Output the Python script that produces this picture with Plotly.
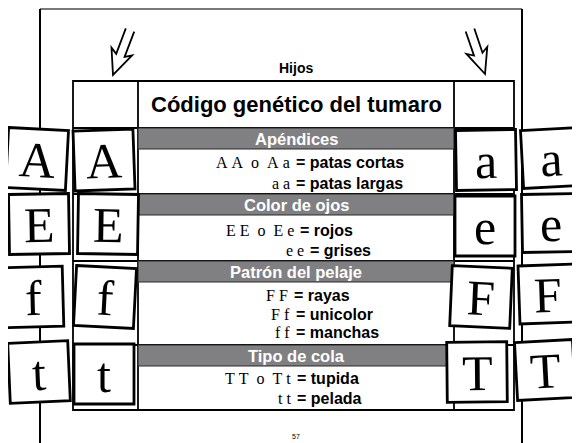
import math
import plotly.graph_objects as go

# ---------------- data ----------------
heading = "Hijos"
title = "Código genético del tumaro"
traits = ["Apéndices", "Color de ojos", "Patrón del pelaje", "Tipo de cola"]
left_outer = ["A", "E", "f", "t"]
left_inner = ["A", "E", "f", "t"]
right_inner = ["a", "e", "F", "T"]
right_outer = ["a", "e", "F", "T"]
genotypes = [["A A  o  A a", "a a"],
             ["E E  o  E e", "e e"],
             ["F F", "F f", "f f"],
             ["T T  o  T t", "t t"]]
phenotypes = [["patas cortas", "patas largas"],
              ["rojos", "grises"],
              ["rayas", "unicolor", "manchas"],
              ["tupida", "pelada"]]
page_number = "57"

# ---------------- layout constants (pixels) ----------------
W, H = 580, 443
OFF = 8  # page body margin of the browser
SANS = "Liberation Sans, Arial, sans-serif"
SERIF = "Liberation Serif, Times New Roman, serif"
GRAY = "rgb(128,128,131)"

tab_x0, tab_x1 = 73, 514
col_l, col_r = 138, 454
tab_top, head_bot, tab_bot = 81, 128, 410
section_tops = [128, 194, 261, 345]
bar_h = 21
line_y = [[162, 183], [230, 250], [295, 314, 332], [378, 398]]
split_x = [[294, 294], [298, 308], [292, 294, 294], [295, 295]]

# box centres / tilt
box_cols = [
    (left_outer, [(37, 159), (39, 224), (33, 297), (39, 372)], [3, -1, -1.5, -2.5], 60),
    (left_inner, [(104, 160), (108, 224), (105, 297), (104, 374)], [-2, 1, 3, 0], 60),
    (right_inner, [(486, 160), (485, 226), (481, 297), (477, 372)], [-1, 0, 2.5, -0.5], 60),
    (right_outer, [(551, 158), (551, 223), (548, 294), (545, 370)], [-3, -1, -2, -3], 58),
]

fig = go.Figure()
shapes = []
ann = []


def line(x0, y0, x1, y1, color="black", width=2):
    shapes.append(dict(type="line", x0=x0, y0=y0, x1=x1, y1=y1, xref="x", yref="y",
                       line=dict(color=color, width=width)))


def rect(x0, y0, x1, y1, fill="rgba(0,0,0,0)", color="black", width=2):
    shapes.append(dict(type="rect", x0=x0, y0=y0, x1=x1, y1=y1, xref="x", yref="y",
                       fillcolor=fill, line=dict(color=color, width=width)))


def text(x, y, s, size, family=SANS, color="black", xanchor="center", angle=0, bold=False):
    if bold:
        s = "<b>" + s + "</b>"
    ann.append(dict(x=x, y=y, xref="x", yref="y", text=s, showarrow=False,
                    xanchor=xanchor, yanchor="middle", textangle=angle,
                    font=dict(family=family, size=size, color=color)))


# page frame
line(40, 9, 522, 9, color="rgb(120,120,120)", width=2)
line(40, 9, 40, H, width=2)
line(522, 9, 522, H, width=2)

# table
rect(tab_x0, tab_top, tab_x1, tab_bot, fill="white", width=1.8)
line(col_l, tab_top, col_l, tab_bot, width=1.8)
line(col_r, tab_top, col_r, tab_bot, width=1.8)
for i, top in enumerate(section_tops):
    line(tab_x0, top, tab_x1, top, width=2)
    rect(col_l, top, col_r, top + bar_h, fill=GRAY, color="rgb(40,40,40)", width=1.2)
    text((col_l + col_r) / 2, top + bar_h / 2 + 0.5, traits[i], 16.5, color="white", bold=True)
    for j, (g, p) in enumerate(zip(genotypes[i], phenotypes[i])):
        y = line_y[i][j]
        sx = split_x[i][j]
        text(sx - 2, y, g.replace(" ", "&nbsp;"), 16, family=SERIF, xanchor="right")
        text(sx, y, "= " + p, 16, bold=True, xanchor="left")

text(296, 68, heading, 14, bold=True)
text(296, 104, title, 22, bold=True)
text(296, 436, page_number, 7)


# arrows
def arrow(tail, tip, sw=4.5, hl=25, hw=11, notch=4):
    tx, ty = tail
    px, py = tip
    L = math.hypot(px - tx, py - ty)
    ux, uy = (px - tx) / L, (py - ty) / L
    nx, ny = -uy, ux

    def P(a, c):
        return (tx + ux * a + nx * c, ty + uy * a + ny * c)

    pts = [P(0, sw), P(L - hl + notch, sw), P(L - hl, hw), P(L, 0),
           P(L - hl, -hw), P(L - hl + notch, -sw), P(0, -sw)]
    path = "M " + " L ".join(f"{x:.1f},{y:.1f}" for x, y in pts)
    shapes.append(dict(type="path", path=path, xref="x", yref="y",
                       line=dict(color="black", width=1.8)))


arrow((130, 30), (113, 75))
arrow((470, 30), (485, 74))

# letter boxes
for letters, centres, tilts, size in box_cols:
    for letter, (cx, cy), a in zip(letters, centres, tilts):
        t = math.radians(a)
        h = size / 2
        pts = []
        for dx, dy in [(-h, -h), (h, -h), (h, h), (-h, h)]:
            pts.append((cx + dx * math.cos(t) - dy * math.sin(t),
                        cy + dx * math.sin(t) + dy * math.cos(t)))
        path = "M " + " L ".join(f"{x:.1f},{y:.1f}" for x, y in pts) + " Z"
        shapes.append(dict(type="path", path=path, xref="x", yref="y",
                           fillcolor="white", line=dict(color="black", width=2.8)))
        text(cx, cy + 1, letter, 50, family=SERIF, angle=a)

fig.update_layout(
    width=W - OFF, height=H - OFF, margin=dict(l=0, r=0, t=0, b=0),
    paper_bgcolor="white", plot_bgcolor="white",
    xaxis=dict(range=[OFF, W], visible=False, fixedrange=True),
    yaxis=dict(range=[H, OFF], visible=False, fixedrange=True),
    shapes=shapes, annotations=ann, showlegend=False,
)
fig.write_html("out.html")
